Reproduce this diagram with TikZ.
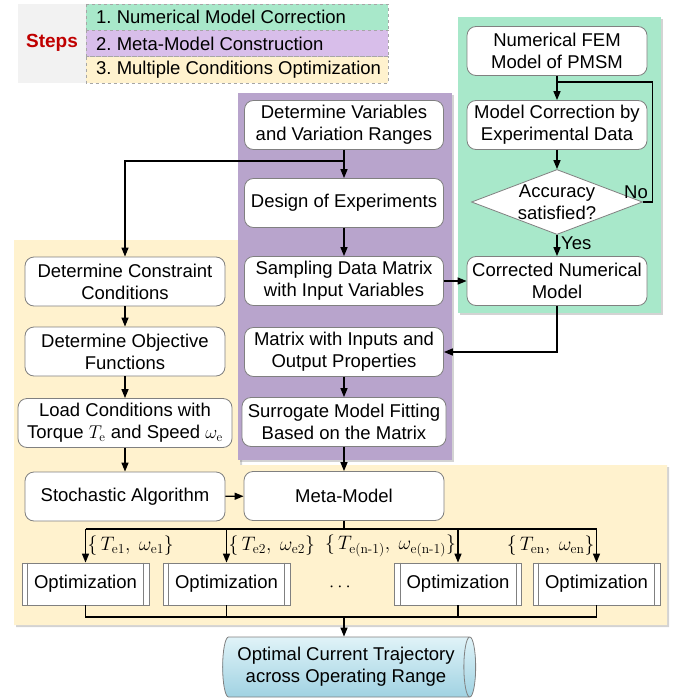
\documentclass[tikz,border=0pt]{standalone}
\usepackage{fix-cm}
\usepackage[no-math]{fontspec}
\setmainfont{Liberation Sans}
\usetikzlibrary{arrows.meta,shapes.geometric,shadows}
\newcommand\mhy{\mathchar"002D\relax}

\begin{document}
\frenchspacing
\begin{tikzpicture}[x=1pt, y=1pt, yscale=-1, >={Triangle[length=9pt,width=7pt]},
  font=\fontsize{18.5}{22}\selectfont,
  box/.style={draw=bord, line width=0.8pt, rounded corners=9pt, fill=white, align=center, inner sep=0pt, minimum height=49pt},
  optbox/.style={draw=bord, line width=0.8pt, fill=white, inner sep=0pt, minimum width=127pt, minimum height=42pt},
  flow/.style={->, line width=1.4pt},
  link/.style={line width=1.4pt},
  region/.style={drop shadow={shadow xshift=2pt, shadow yshift=-2pt, opacity=0.35}},
  legbox/.style={draw=bord!70, dashed, line width=0.6pt},
  legtext/.style={anchor=west, inner sep=0pt},
  wlabel/.style={inner sep=1pt, font=\fontsize{19.5}{22}\selectfont}]
\definecolor{grn}{RGB}{168,232,202}
\definecolor{pur}{RGB}{184,164,204}
\definecolor{purl}{RGB}{216,190,234}
\definecolor{yel}{RGB}{255,242,206}
\definecolor{stepred}{RGB}{192,0,0}
\definecolor{bord}{RGB}{128,128,128}
\definecolor{cyltop}{RGB}{224,243,248}
\definecolor{cylbot}{RGB}{160,210,226}
\useasboundingbox (0,0) rectangle (683,698);

% step regions
\path[fill=yel, region] (14,240) -- (240,240) -- (240,465) -- (667,465) -- (667,625) -- (14,625) -- cycle;
\path[fill=pur, region] (238,93) rectangle (452,460);
\path[fill=grn, region] (458,17) rectangle (661,313);

% legend
\fill[gray!10] (18,4) rectangle (388,83);
\draw[legbox, fill=grn] (86,4) rectangle (388,30.3);
\draw[legbox, fill=purl] (86,30.3) rectangle (388,56.6);
\draw[legbox, fill=yel] (86,56.6) rectangle (388,83);
\node[text=stepred, font=\fontsize{19}{22}\selectfont\bfseries] (steps) at (52,43) {Steps};
\node[legtext] (leg1) at (96,17) {1. Numerical Model Correction};
\node[legtext] (leg2) at (96,43.5) {2. Meta-Model Construction};
\node[legtext] (leg3) at (96,70) {3. Multiple Conditions Optimization};

% model correction
\node[box, minimum width=180pt] (fem) at (557,51) {Numerical FEM\\Model of PMSM};
\node[box, minimum width=180pt] (mcorr) at (557,125) {Model Correction by\\Experimental Data};
\node[diamond, draw=bord, line width=0.8pt, fill=white, inner sep=0pt, minimum width=171pt, minimum height=65pt] (acc) at (557,202) {};
\node[align=center] (acctxt) at (acc) {Accuracy\\satisfied?};
\node[box, minimum width=180pt] (cnm) at (557,281) {Corrected Numerical\\Model};
\coordinate (loop) at (557,82);

% meta-model
\node[box, minimum width=199pt] (detvar) at (344,125) {Determine Variables\\and Variation Ranges};
\node[box, minimum width=199pt] (doe) at (344,203) {Design of Experiments};
\node[box, minimum width=199pt] (samp) at (344,281) {Sampling Data Matrix\\with Input Variables};
\node[box, minimum width=199pt] (mio) at (344,352) {Matrix with Inputs and\\Output Properties};
\node[box, minimum width=204pt] (surr) at (344,422) {Surrogate Model Fitting\\Based on the Matrix};
\node[box, minimum width=200pt] (meta) at (344,496) {Meta-Model};
\coordinate (split) at (344,161);

% optimization
\node[box, minimum width=200pt] (dcc) at (125,281.5) {Determine Constraint\\Conditions};
\node[box, minimum width=200pt] (dof) at (125,351.5) {Determine Objective\\Functions};
\node[box, minimum width=214pt] (load) at (125,423) {Load Conditions with\\Torque $T_\mathrm{e}$ and Speed $\omega_\mathrm{e}$};
\node[box, minimum width=200pt] (sto) at (125,496.5) {Stochastic Algorithm};
\foreach \i/\x in {1/85.5, 2/226.5, 3/458, 4/596.5}
  \node[optbox] (opt\i) at (\x,584) {Optimization};
\foreach \i in {1,...,4} {
  \draw[bord, line width=0.8pt] ([xshift=6pt]opt\i.north west) -- ([xshift=6pt]opt\i.south west);
  \draw[bord, line width=0.8pt] ([xshift=-6pt]opt\i.north east) -- ([xshift=-6pt]opt\i.south east);
}
\node (dots) at (340,587) {$\cdots$};
\node[cylinder, draw=bord, line width=0.8pt, top color=cyltop, bottom color=cylbot, shape aspect=0.3, minimum width=60pt, minimum height=253pt, align=center, inner sep=0pt] (out) at (346,667) {Optimal Current Trajectory\\across Operating Range};
\coordinate (bus) at (344,529);
\coordinate (join) at (344,617);

% connectors
\draw[flow] (fem) -- (mcorr);
\draw[flow] (mcorr) -- (acc);
\draw[link] (acc.east) -- ++(9.5,0) |- (loop);
\node[anchor=south east, inner sep=1pt] (no) at (649,200) {No};
\draw[flow] (acc) -- (cnm);
\node[anchor=west, inner sep=1pt] (yes) at (560,243) {Yes};
\draw[flow] (detvar) -- (doe);
\draw[flow] (split) -| (dcc);
\draw[flow] (doe) -- (samp);
\draw[flow] (samp) -- (cnm);
\draw[flow] (cnm) |- (mio);
\draw[flow] (mio) -- (surr);
\draw[flow] (surr) -- (meta);
\draw[flow] (dcc) -- (dof);
\draw[flow] (dof) -- (load);
\draw[flow] (load) -- (sto);
\draw[flow] (sto) -- (meta);
\draw[link] (meta) -- (bus);
\draw[link] (opt1.north |- bus) -- (opt4.north |- bus);
\foreach \i in {1,...,4}
  \draw[flow] (opt\i.north |- bus) -- (opt\i);
\node[wlabel, anchor=west] (w1) at ([xshift=1pt]opt1.north |- 0,546) {$\{\,T_{\mathrm{e1}},\;\omega_{\mathrm{e1}}\}$};
\node[wlabel, anchor=west] (w2) at ([xshift=1pt]opt2.north |- 0,546) {$\{\,T_{\mathrm{e2}},\;\omega_{\mathrm{e2}}\}$};
\node[wlabel, anchor=east] (w3) at ([xshift=-1pt]opt3.north |- 0,546) {$\{\,T_{\mathrm{e(n\mhy1)}},\;\omega_{\mathrm{e(n\mhy1)}}\}$};
\node[wlabel, anchor=east] (w4) at ([xshift=-1pt]opt4.north |- 0,546) {$\{\,T_{\mathrm{en}},\;\omega_{\mathrm{en}}\}$};
\draw[link] (opt1) -- (opt1.south |- join) -- (opt4.south |- join) -- (opt4);
\draw[link] (opt2) -- (opt2.south |- join);
\draw[link] (opt3) -- (opt3.south |- join);
\draw[flow] (join) -- (join |- out.north);

\end{tikzpicture}
\end{document}
